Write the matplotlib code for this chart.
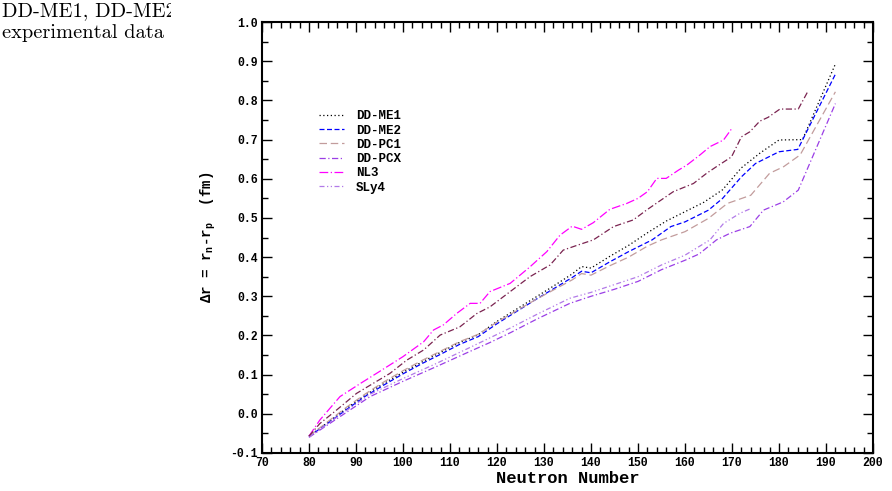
"""
Neutron skin thickness vs neutron number for several relativistic and
Skyrme functionals. Values read off the reference picture.
"""

import matplotlib

matplotlib.use("Agg")

import matplotlib.pyplot as plt
from matplotlib.ticker import MultipleLocator
from matplotlib.transforms import Bbox

# ---- data -----------------------------------------------------------------
n_me1 = [80, 84, 88, 92, 96, 100, 104, 108, 112, 116, 120, 124, 128, 132, 136,
         138, 140, 144, 148, 152, 156, 160, 164, 168, 172, 176, 180, 185, 192]
dr_me1 = [-0.057, -0.022, 0.014, 0.048, 0.078, 0.106, 0.132, 0.157, 0.182, 0.202,
          0.236, 0.266, 0.296, 0.326, 0.357, 0.376, 0.372, 0.402, 0.430, 0.462,
          0.492, 0.516, 0.540, 0.572, 0.628, 0.666, 0.699, 0.700, 0.893]

n_me2 = [80, 84, 88, 92, 96, 100, 104, 108, 112, 116, 120, 124, 128, 132, 136,
         138, 140, 144, 148, 153, 157, 160, 165, 168, 172, 175, 180, 184, 192]
dr_me2 = [-0.058, -0.024, 0.011, 0.045, 0.074, 0.102, 0.128, 0.152, 0.177, 0.197,
          0.230, 0.260, 0.290, 0.319, 0.348, 0.364, 0.360, 0.388, 0.414, 0.444,
          0.478, 0.490, 0.520, 0.550, 0.605, 0.639, 0.669, 0.675, 0.867]

n_pc1 = [80, 84, 88, 92, 96, 100, 104, 108, 112, 116, 120, 124, 128, 132, 136,
         138, 140, 144, 148, 152, 155, 160, 165, 169, 174, 178, 181, 184.5, 192]
dr_pc1 = [-0.057, -0.020, 0.017, 0.051, 0.082, 0.110, 0.136, 0.160, 0.184, 0.203,
          0.234, 0.262, 0.290, 0.316, 0.342, 0.358, 0.354, 0.378, 0.400, 0.428,
          0.444, 0.465, 0.499, 0.537, 0.558, 0.614, 0.631, 0.661, 0.822]

n_pcx = [80, 86, 93, 100, 107, 114, 118.5, 123, 128.5, 135.5, 140, 145, 150,
         155, 160, 163, 166.7, 169.6, 173.8, 176.7, 180.9, 184.1, 192]
dr_pcx = [-0.060, -0.012, 0.044, 0.083, 0.120, 0.158, 0.182, 0.208, 0.242, 0.282,
          0.300, 0.318, 0.338, 0.368, 0.392, 0.408, 0.444, 0.461, 0.478, 0.520,
          0.541, 0.571, 0.792]

n_nl3 = [80, 82.3, 86.6, 91, 95, 100, 104.4, 106.5, 108.6, 111.4, 114.3, 116.4,
         118.5, 122.8, 127, 130.6, 133.4, 136, 138, 140.5, 144, 147.6, 150, 152,
         154, 156, 158.6, 160.4, 163.2, 165.3, 168.2, 170]
dr_nl3 = [-0.057, -0.016, 0.044, 0.078, 0.108, 0.146, 0.184, 0.214, 0.227, 0.256,
          0.282, 0.282, 0.312, 0.333, 0.375, 0.414, 0.456, 0.479, 0.471, 0.488,
          0.522, 0.537, 0.550, 0.567, 0.601, 0.601, 0.622, 0.635, 0.661, 0.682,
          0.699, 0.729]

n_sly4 = [80, 86, 93, 100, 107, 114, 118.5, 123, 128.5, 135.5, 140, 145, 150,
          155, 160, 165.3, 168.2, 171.7, 174.2]
dr_sly4 = [-0.060, -0.008, 0.050, 0.090, 0.128, 0.168, 0.194, 0.220, 0.254, 0.295,
           0.310, 0.330, 0.350, 0.380, 0.405, 0.444, 0.486, 0.512, 0.525]

# extra curve drawn without a legend entry
n_extra = [80, 82.3, 85.9, 90.1, 93.7, 97.2, 100.8, 104.4, 107.9, 112.1, 115.7,
           118.5, 122.8, 127, 131.3, 134.1, 137, 140.5, 144.8, 149, 151.8, 154.7,
           157.5, 161.8, 164.6, 166.7, 169.9, 172, 173.8, 175.9, 177.7, 180.2,
           184.1, 186]
dr_extra = [-0.057, -0.025, 0.010, 0.052, 0.078, 0.103, 0.137, 0.163, 0.201, 0.222,
            0.256, 0.273, 0.312, 0.350, 0.380, 0.418, 0.430, 0.444, 0.478, 0.495,
            0.520, 0.544, 0.567, 0.588, 0.614, 0.631, 0.656, 0.707, 0.720, 0.747,
            0.757, 0.778, 0.778, 0.820]

# ---- style ----------------------------------------------------------------
MONO = "Liberation Mono"
plt.rcParams["font.family"] = [MONO, "DejaVu Sans"]
plt.rcParams["font.weight"] = "bold"
plt.rcParams["mathtext.fontset"] = "custom"
plt.rcParams["mathtext.rm"] = MONO + ":bold"
plt.rcParams["mathtext.it"] = MONO + ":bold"
plt.rcParams["mathtext.bf"] = MONO + ":bold"

fig = plt.figure(figsize=(8.92, 4.91), dpi=100)
ax = fig.add_axes([0.2937, 0.0774, 0.685, 0.8776])

lw = 0.9
ax.plot(n_me1, dr_me1, color="black", lw=lw, ls=(0, (1, 2)), label="DD-ME1")
ax.plot(n_me2, dr_me2, color="#0000ff", lw=lw, ls=(0, (4, 2)), label="DD-ME2")
ax.plot(n_pc1, dr_pc1, color="#c29c9c", lw=lw, ls=(0, (6, 3)), label="DD-PC1")
ax.plot(n_pcx, dr_pcx, color="#9b3ee6", lw=lw, ls=(0, (5, 2, 1, 2)), label="DD-PCX")
ax.plot(n_nl3, dr_nl3, color="#ff00ff", lw=lw, ls=(0, (7, 2, 1, 2)), label="NL3")
ax.plot(n_sly4, dr_sly4, color="#b27ae8", lw=lw, ls=(0, (4, 2, 1, 2, 1, 2)), label="SLy4")
ax.plot(n_extra, dr_extra, color="#7a2350", lw=lw, ls=(0, (5, 2, 1, 2)))

ax.set_xlim(70, 200)
ax.set_ylim(-0.1, 1.0)
ax.xaxis.set_major_locator(MultipleLocator(10))
ax.xaxis.set_minor_locator(MultipleLocator(2))
ax.yaxis.set_major_locator(MultipleLocator(0.1))
ax.yaxis.set_minor_locator(MultipleLocator(0.05))
ax.yaxis.set_major_formatter(plt.FormatStrFormatter("%.1f"))
ax.tick_params(which="both", direction="in", top=True, right=True, width=1.0,
               labelsize=8.3)
ax.tick_params(which="major", length=7, pad=3)
ax.tick_params(which="minor", length=4)
for sp in ax.spines.values():
    sp.set_linewidth(1.5)

ax.set_xlabel("Neutron Number", fontsize=12.3, fontweight="bold", labelpad=1)
ax.set_ylabel(r"$\Delta$r = r$_{\rm n}$-r$_{\rm p}$  (fm)", fontsize=10.2,
              fontweight="bold", labelpad=9)

ax.legend(loc="upper left", bbox_to_anchor=(0.0845, 0.807), frameon=False,
          fontsize=9.0, handlelength=2.05, handletextpad=0.95, labelspacing=0.18,
          borderaxespad=0)

# clipped caption fragment in the top-left corner
clip = Bbox.from_extents(0, 0, 171, 491)
for txt, yy in [("DD-ME1, DD-ME2", 0.977), ("experimental data", 0.933)]:
    t = fig.text(0.002, yy, txt, fontsize=14.7, family=["cmr10", "DejaVu Serif"],
                 fontweight="normal", va="center", ha="left")
    t.set_clip_box(clip)
    t.set_clip_on(True)

fig.savefig("out.png", dpi=100)
